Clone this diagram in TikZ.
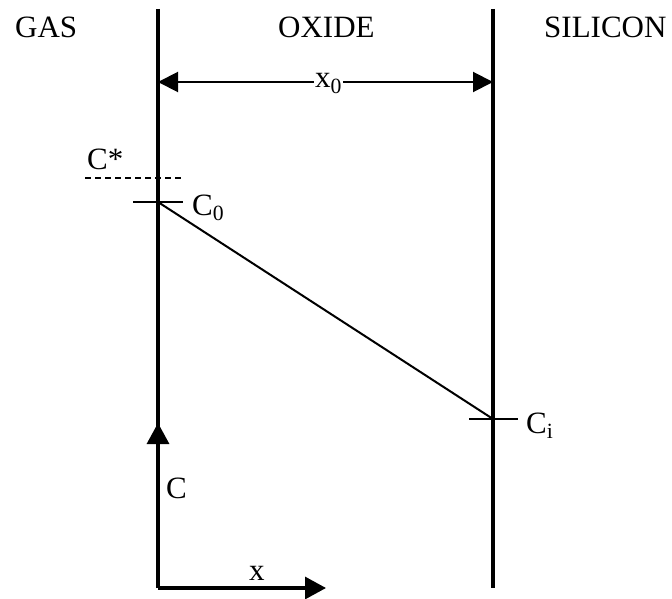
\documentclass[tikz,border=0pt]{standalone}
\usepackage{fontspec}
\setmainfont{Liberation Serif}
\usetikzlibrary{arrows.meta}
\begin{document}
\begin{tikzpicture}[x=1pt,y=-1pt,
  wall/.style={line width=3.2pt},
  thin line/.style={line width=2pt},
  tickline/.style={line width=2.4pt},
  lbl/.style={font=\fontsize{31}{36}\selectfont, inner sep=0pt, anchor=base west},
  bigtip/.style={-{Triangle[length=21pt,width=22pt]}}]
\useasboundingbox (0,0) rectangle (672,599);
% coordinates
\coordinate (Ltop) at (158,9);
\coordinate (Lbot) at (158,588);
\coordinate (Rtop) at (493,9);
\coordinate (Rbot) at (493,588);
\coordinate (C0pt) at (158,202);
\coordinate (Cipt) at (493,419);
\coordinate (xend) at (326,588);
\coordinate (Cend) at (158,423);
% walls
\draw[wall] (Ltop) -- (Lbot);
\draw[wall] (Rtop) -- (Rbot);
% axes
\draw[wall, line cap=butt, bigtip] (Lbot) -- (xend);
\draw[wall, bigtip] (Lbot) -- (Cend);
% region labels
\node[lbl] (gas) at (15,38) {GAS};
\node[lbl] (oxide) at (278,38) {OXIDE};
\node[lbl] (silicon) at (544,38) {SILICON};
% x0 dimension
\coordinate (dimL) at (158,82);
\coordinate (dimR) at (493,82);
\draw[thin line, {Triangle[length=20pt,width=20pt]}-{Triangle[length=20pt,width=20pt]}] (dimL) -- (dimR);
\node[lbl, fill=white, inner xsep=1pt, inner ysep=2pt] (x0) at (314,88) {x\textsubscript{0}};
% C* dashed
\coordinate (dashL) at (85,178);
\coordinate (dashR) at (183,178);
\draw[line width=1.7pt, dash pattern=on 6pt off 4pt] (dashL) -- (dashR);
\node[lbl] (cstar) at (87,170) {C*};
% ticks
\coordinate (t0L) at (133,202);
\coordinate (t0R) at (183,202);
\draw[tickline] (t0L) -- (t0R);
\coordinate (tiL) at (469,419);
\coordinate (tiR) at (518,419);
\draw[tickline] (tiL) -- (tiR);
\node[lbl] (c0) at (192,215) {C\textsubscript{0}};
\node[lbl] (ci) at (526,433) {C\textsubscript{i}};
% profile
\draw[thin line] (C0pt) -- (Cipt);
% axis labels
\node[lbl] (clbl) at (166,498) {C};
\node[lbl] (xlbl) at (249,580) {x};
\end{tikzpicture}
\end{document}
